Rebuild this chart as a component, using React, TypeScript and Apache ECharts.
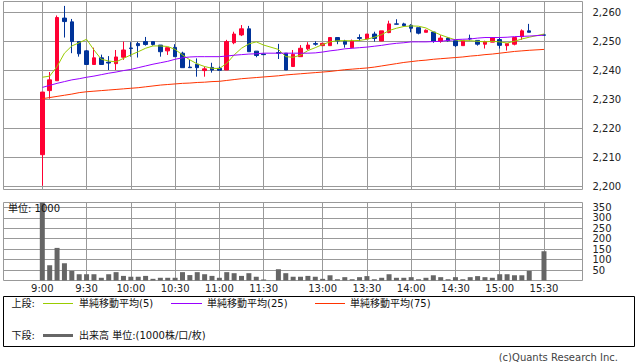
import { useEffect, useRef } from "react";
import * as echarts from "echarts";

// 5-minute slots: 0 = 9:00 ... 30 = 11:30, 32 = 12:30 ... 68 = 15:30
const slots = [
  0, 1, 2, 3, 4, 5, 6, 7, 8, 9, 10, 11, 12, 13, 14, 15, 16, 17, 18, 19, 20, 21, 22, 23, 24, 25, 26, 27, 28, 29, 30,
  32, 33, 34, 35, 36, 37, 38, 39, 40, 41, 42, 43, 44, 45, 46, 47, 48, 49, 50, 51, 52, 53, 54, 55, 56, 57, 58, 59, 60,
  61, 62, 63, 64, 65, 66, 68,
];
const opens = [
  2210.9, 2233.0, 2236.4, 2258.0, 2256.7, 2249.9, 2246.7, 2242.0, 2244.3, 2242.8, 2242.3, 2244.5, 2247.7, 2249.2, 2249.9,
  2249.9, 2248.7, 2246.7, 2247.9, 2245.9, 2241.1, 2242.1, 2239.9, 2241.0, 2240.7, 2240.1, 2249.5, 2252.2, 2254.3, 2246.6,
  2245.6, 2246.1, 2245.9, 2241.3, 2244.7, 2247.4, 2249.2, 2248.5, 2248.5, 2251.3, 2250.1, 2247.8, 2251.3, 2250.8, 2252.5,
  2250.1, 2253.0, 2256.0, 2256.0, 2255.5, 2254.7, 2253.1, 2253.2, 2250.0, 2251.1, 2250.2, 2248.5, 2251.0, 2250.3, 2249.0,
  2249.7, 2250.6, 2248.5, 2249.0, 2251.6, 2253.6, 2252.2,
];
const closes = [
  2232.5, 2236.7, 2258.2, 2256.8, 2249.9, 2245.7, 2242.0, 2244.3, 2242.0, 2242.5, 2244.6, 2247.0, 2247.5, 2248.5, 2248.9,
  2248.9, 2246.4, 2247.8, 2244.7, 2240.9, 2240.9, 2240.9, 2240.5, 2240.1, 2240.0, 2249.9, 2252.5, 2254.3, 2246.4, 2245.1,
  2245.4, 2245.9, 2240.1, 2245.5, 2247.6, 2248.7, 2249.0, 2249.3, 2251.3, 2250.1, 2249.0, 2250.1, 2251.0, 2252.5, 2251.0,
  2253.6, 2256.0, 2255.9, 2255.4, 2254.5, 2252.8, 2253.8, 2250.0, 2251.1, 2250.2, 2248.5, 2250.2, 2250.8, 2249.0, 2249.9,
  2251.3, 2248.6, 2249.2, 2251.3, 2253.6, 2253.1, 2252.1,
];
const lows = [
  2200.2, 2230.2, 2236.4, 2251.3, 2245.9, 2244.7, 2242.0, 2242.0, 2242.0, 2240.1, 2240.1, 2243.6, 2244.7, 2244.4, 2248.5,
  2248.5, 2244.7, 2245.3, 2244.7, 2240.9, 2240.9, 2237.8, 2237.8, 2239.2, 2240.0, 2240.1, 2249.0, 2251.8, 2246.4, 2244.5,
  2245.4, 2243.9, 2240.1, 2241.3, 2244.7, 2247.0, 2248.5, 2248.5, 2248.5, 2249.0, 2247.8, 2247.8, 2250.1, 2250.8, 2249.9,
  2250.1, 2252.8, 2255.8, 2255.1, 2253.1, 2252.4, 2253.1, 2249.5, 2249.5, 2249.9, 2248.0, 2248.5, 2250.3, 2248.5, 2247.5,
  2249.7, 2247.5, 2246.8, 2248.6, 2250.5, 2253.1, 2252.1,
];
const highs = [
  2232.5, 2239.4, 2258.9, 2262.2, 2257.7, 2249.9, 2247.0, 2247.8, 2245.4, 2244.9, 2247.0, 2249.9, 2249.7, 2249.8, 2251.5,
  2249.9, 2248.7, 2247.8, 2249.0, 2246.4, 2243.6, 2244.1, 2241.3, 2242.6, 2241.3, 2250.5, 2253.3, 2255.6, 2255.3, 2246.6,
  2245.6, 2249.1, 2245.9, 2247.0, 2248.7, 2249.7, 2250.0, 2249.3, 2251.3, 2251.3, 2250.5, 2250.6, 2252.4, 2252.5, 2253.3,
  2253.6, 2257.1, 2257.6, 2256.4, 2255.9, 2254.7, 2254.1, 2253.2, 2252.1, 2251.4, 2250.2, 2250.2, 2252.3, 2250.3, 2250.2,
  2251.3, 2251.3, 2249.2, 2251.3, 2254.1, 2256.0, 2252.2,
];
const volumes = [
  400, 73, 156, 83, 46, 30, 30, 30, 13, 30, 40, 22, 18, 18, 22, 8, 13, 13, 13, 40, 26, 40, 30, 22, 13, 40, 35, 22, 35, 18,
  5, 54, 35, 18, 18, 22, 18, 8, 25, 6, 16, 6, 16, 21, 6, 13, 30, 13, 13, 16, 6, 13, 25, 16, 6, 16, 6, 16, 21, 16, 13, 30,
  30, 25, 25, 46, 140,
];
const ma5 = [
  2237.6, 2238.0, 2241.3, 2245.9, 2248.4, 2249.5, 2250.7, 2247.0, 2243.8, 2243.2, 2242.9, 2244.1, 2245.3, 2246.4, 2247.6,
  2248.4, 2248.4, 2248.2, 2247.2, 2245.3, 2243.6, 2242.2, 2241.3, 2240.7, 2240.6, 2242.4, 2245.3, 2247.6, 2249.1, 2249.8,
  2248.7, 2247.2, 2244.7, 2244.5, 2245.2, 2246.8, 2247.8, 2248.9, 2249.8, 2250.2, 2250.2, 2250.2, 2250.3, 2250.7, 2251.4,
  2252.3, 2253.7, 2254.5, 2255.1, 2255.3, 2255.2, 2254.6, 2253.3, 2252.2, 2251.3, 2250.5, 2250.2, 2250.2, 2250.0, 2249.8,
  2250.0, 2249.8, 2249.4, 2250.0, 2250.8, 2251.4, 2252.5,
];
const ma25 = [
  2234.1, 2234.8, 2235.5, 2236.1, 2236.7, 2237.1, 2237.6, 2238.0, 2238.5, 2239.0, 2239.4, 2239.9, 2240.3, 2240.9, 2241.5,
  2242.1, 2242.6, 2243.1, 2243.8, 2244.3, 2244.6, 2244.7, 2244.7, 2244.7, 2244.7, 2244.9, 2245.2, 2245.4, 2245.6, 2245.7,
  2245.9, 2245.9, 2245.9, 2245.9, 2245.9, 2245.9, 2246.0, 2246.3, 2246.7, 2247.0, 2247.4, 2247.6, 2247.8, 2248.0, 2248.3,
  2248.6, 2249.0, 2249.3, 2249.5, 2249.8, 2249.8, 2249.8, 2249.9, 2250.0, 2250.3, 2250.6, 2250.7, 2250.8, 2251.1, 2251.3,
  2251.3, 2251.3, 2251.4, 2251.6, 2251.7, 2251.8, 2252.1,
];
const ma75 = [
  2230.2, 2230.6, 2231.0, 2231.4, 2231.8, 2232.3, 2232.6, 2232.8, 2233.0, 2233.2, 2233.4, 2233.6, 2233.8, 2234.0, 2234.3,
  2234.6, 2234.9, 2235.1, 2235.3, 2235.5, 2235.6, 2235.8, 2235.9, 2236.1, 2236.2, 2236.5, 2236.8, 2237.1, 2237.3, 2237.5,
  2237.7, 2238.1, 2238.4, 2238.6, 2238.8, 2239.0, 2239.2, 2239.4, 2239.6, 2239.9, 2240.2, 2240.4, 2240.6, 2240.8, 2241.1,
  2241.5, 2241.9, 2242.3, 2242.7, 2243.0, 2243.3, 2243.5, 2243.8, 2244.0, 2244.2, 2244.4, 2244.6, 2244.9, 2245.1, 2245.4,
  2245.6, 2245.9, 2246.2, 2246.5, 2246.7, 2246.9, 2247.2,
];
const tickSlots = [0, 6, 12, 18, 24, 30, 38, 44, 50, 56, 62, 68];
const tickLabels = ["9:00", "9:30", "10:00", "10:30", "11:00", "11:30", "13:00", "13:30", "14:00", "14:30", "15:00", "15:30"];
const priceTicks = [2200, 2210, 2220, 2230, 2240, 2250, 2260];
const volumeTicks = [50, 100, 150, 200, 250, 300, 350];
const maNames = ["単純移動平均(5)", "単純移動平均(25)", "単純移動平均(75)"];
const maColors = ["#99CC00", "#9900FF", "#FF3300"];
const volumeLegend = "出来高 単位:(1000株/口/枚)";
const upperLabel = "上段:";
const lowerLabel = "下段:";
const unitText = "単位: 1000";
const copyright = "(c)Quants Research Inc.";

const FONT = "'DejaVu Sans', 'Noto Sans CJK JP', sans-serif";
const GRID_COLOR = "#999999";
const UP = "#FF0033";
const DOWN = "#003399";

export default function App() {
  const ref = useRef<HTMLDivElement>(null);

  useEffect(() => {
    if (!ref.current) return;
    const chart = echarts.init(ref.current, undefined, { renderer: "svg" });

    const candleData = slots.map((s, i) => [s, opens[i], closes[i], lows[i], highs[i]]);
    const volData = slots.map((s, i) => [s, volumes[i]]);
    const maSeries = [ma5, ma25, ma75].map((arr, k) => ({
      type: "line",
      name: maNames[k],
      xAxisIndex: 0,
      yAxisIndex: 0,
      data: slots.map((s, i) => [s, arr[i]]),
      symbol: "none",
      showSymbol: false,
      lineStyle: { color: maColors[k], width: 1 },
      itemStyle: { color: maColors[k] },
      z: 3,
    }));

    const xMin = -5.26;
    const xMax = 73.22;
    const labelFmt = (v: number) => {
      const idx = tickSlots.indexOf(Math.round(v));
      return idx >= 0 ? tickLabels[idx] : "";
    };

    const legendY1 = 303;
    const legendY2 = 335;
    const legendText = (text: string, x: number, y: number) => ({
      type: "text",
      x,
      y: y + 0.5,
      style: { text, fontSize: 10, fontFamily: FONT, fill: "#111", verticalAlign: "middle" },
    });
    const legendBar = (x: number, y: number, w: number, h: number, color: string) => ({
      type: "rect",
      shape: { x, y, width: w, height: h },
      style: { fill: color, stroke: "none" },
    });

    chart.setOption({
      animation: false,
      backgroundColor: "#ffffff",
      textStyle: { fontFamily: FONT },
      grid: [
        { left: 3.5, top: 1.5, width: 579, height: 188, show: true, borderColor: GRID_COLOR, borderWidth: 1, backgroundColor: "#fff" },
        { left: 3.5, top: 202.5, width: 579, height: 78, show: true, borderColor: GRID_COLOR, borderWidth: 1, backgroundColor: "#fff" },
      ],
      xAxis: [
        {
          type: "value",
          gridIndex: 0,
          min: xMin,
          max: xMax,
          axisLine: { show: false },
          axisTick: { show: false, customValues: tickSlots },
          axisLabel: { show: false, customValues: tickSlots },
          splitLine: { show: true, lineStyle: { color: GRID_COLOR, width: 1 } },
        },
        {
          type: "value",
          gridIndex: 1,
          min: xMin,
          max: xMax,
          axisLine: { show: false },
          axisTick: { show: false, customValues: tickSlots },
          axisLabel: {
            show: true,
            customValues: tickSlots,
            formatter: labelFmt,
            fontSize: 10,
            color: "#222",
            margin: 3,
            fontFamily: FONT,
          },
          splitLine: { show: true, lineStyle: { color: GRID_COLOR, width: 1 } },
        },
      ],
      yAxis: [
        {
          type: "value",
          gridIndex: 0,
          position: "right",
          min: 2198.9,
          max: 2263.72,
          axisLine: { show: false },
          axisTick: { show: true, length: 4, customValues: priceTicks, lineStyle: { color: GRID_COLOR } },
          axisLabel: {
            customValues: priceTicks,
            formatter: (v: number) => v.toLocaleString("en-US"),
            fontSize: 10,
            color: "#222",
            margin: 10,
            fontFamily: FONT,
          },
          splitLine: { show: true, lineStyle: { color: GRID_COLOR, width: 1 } },
        },
        {
          type: "value",
          gridIndex: 1,
          position: "right",
          min: 0,
          max: 373.2,
          axisLine: { show: false },
          axisTick: { show: true, length: 4, customValues: volumeTicks, lineStyle: { color: GRID_COLOR } },
          axisLabel: {
            customValues: volumeTicks,
            fontSize: 10,
            color: "#222",
            margin: 10,
            fontFamily: FONT,
          },
          splitLine: { show: true, lineStyle: { color: GRID_COLOR, width: 1 } },
        },
      ],
      series: [
        {
          type: "candlestick",
          name: "price",
          xAxisIndex: 0,
          yAxisIndex: 0,
          encode: { x: 0, y: [1, 2, 3, 4] },
          data: candleData,
          barWidth: 4,
          itemStyle: {
            color: UP,
            color0: DOWN,
            borderColor: UP,
            borderColor0: DOWN,
            borderColorDoji: DOWN,
            borderWidth: 1,
          },
          z: 2,
        },
        ...maSeries,
        {
          type: "bar",
          name: "volume",
          xAxisIndex: 1,
          yAxisIndex: 1,
          data: volData,
          barWidth: 5,
          itemStyle: { color: "#666666" },
          clip: true,
        },
      ],
      graphic: [
        {
          type: "text",
          left: 8,
          top: 203,
          z: 100,
          style: { text: unitText, fontSize: 10, fontFamily: FONT, fill: "#111" },
        },
        {
          type: "rect",
          shape: { x: 3.5, y: 296.5, width: 631, height: 50 },
          style: { fill: "none", stroke: "#000", lineWidth: 1 },
        },
        legendText(upperLabel, 11.5, legendY1),
        legendBar(43, legendY1, 30, 1, maColors[0]),
        legendText(maNames[0], 79, legendY1),
        legendBar(171, legendY1, 31, 1, maColors[1]),
        legendText(maNames[1], 207, legendY1),
        legendBar(315, legendY1, 30, 1, maColors[2]),
        legendText(maNames[2], 350, legendY1),
        legendText(lowerLabel, 11.5, legendY2),
        legendBar(43, legendY2 - 1, 30, 3, "#666666"),
        legendText(volumeLegend, 79, legendY2),
        {
          type: "text",
          x: 618,
          y: 357.5,
          style: { text: copyright, fontSize: 10, fontFamily: FONT, fill: "#444", align: "right", verticalAlign: "middle" },
        },
      ],
    });

    return () => {
      chart.dispose();
    };
  }, []);

  return (
    <div
      ref={ref}
      style={{ position: "fixed", left: 0, top: 0, width: 638, height: 362, background: "#fff" }}
    />
  );
}
